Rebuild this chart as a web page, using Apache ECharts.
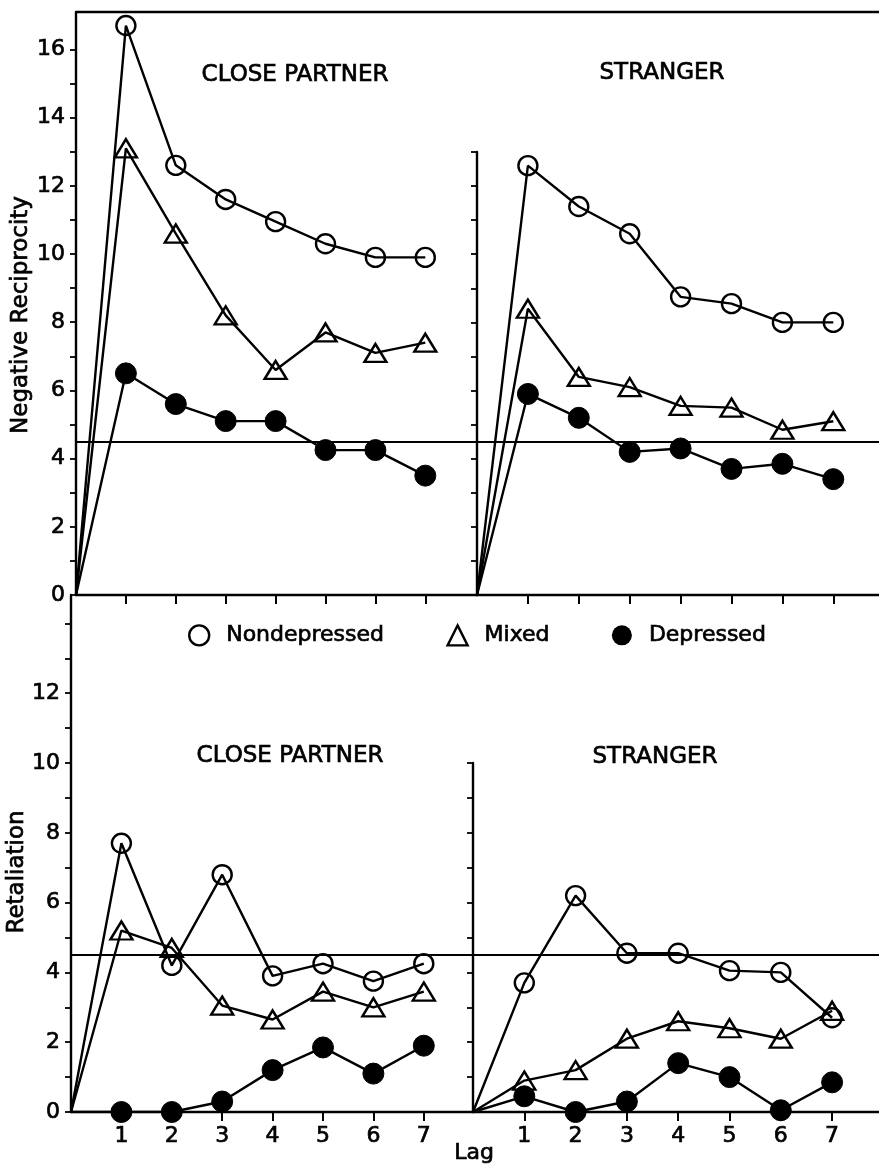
<!DOCTYPE html>
<html>
<head>
<meta charset="utf-8">
<script src="https://cdn.jsdelivr.net/npm/echarts@6/dist/echarts.min.js"></script>
<style>
html,body{margin:0;padding:0;background:#fff;}
#chart{width:879px;height:1170px;}
</style>
</head>
<body>
<div id="chart"></div>
<script>
// ---------- DATA ----------
const lags = [1, 2, 3, 4, 5, 6, 7];
const originPoint = [0, 0];
const seriesNames = ['Nondepressed', 'Mixed', 'Depressed'];

// Negative reciprocity
const negCloseNondep = [16.7, 12.6, 11.6, 10.95, 10.3, 9.9, 9.9];
const negCloseMixed  = [13.1, 10.6, 8.2, 6.6, 7.7, 7.1, 7.4];
const negCloseDep    = [6.5, 5.6, 5.1, 5.1, 4.25, 4.25, 3.5];
const negStrNondep   = [12.6, 11.4, 10.6, 8.75, 8.55, 8.0, 8.0];
const negStrMixed    = [8.4, 6.4, 6.1, 5.55, 5.5, 4.85, 5.1];
const negStrDep      = [5.9, 5.2, 4.2, 4.3, 3.7, 3.85, 3.4];

// Retaliation
const retCloseNondep = [7.7, 4.2, 6.8, 3.9, 4.25, 3.75, 4.25];
const retCloseMixed  = [5.2, 4.7, 3.05, 2.65, 3.45, 3.0, 3.45];
const retCloseDep    = [0.0, 0.0, 0.3, 1.2, 1.85, 1.1, 1.9];
const retStrNondep   = [3.7, 6.2, 4.55, 4.55, 4.05, 4.0, 2.7];
const retStrMixed    = [0.9, 1.2, 2.1, 2.6, 2.4, 2.1, 2.9];
const retStrDep      = [0.45, 0.0, 0.3, 1.4, 1.0, 0.05, 0.85];

const referenceLevel = 4.5;

// tick labels
const negTickValues = [0,1,2,3,4,5,6,7,8,9,10,11,12,13,14,15,16];
const negTickLabels = [0,2,4,6,8,10,12,14,16];
const negStrTickValues = [0,1,2,3,4,5,6,7,8,9,10,11,12,13];
const retTickValues = [0,1,2,3,4,5,6,7,8,9,10,11,12,13,14];
const retTickLabels = [0,2,4,6,8,10,12];
const retStrTickValues = [0,1,2,3,4,5,6,7,8,9,10];
const lagLabels = [1, 2, 3, 4, 5, 6, 7];

const panelTitles = ['CLOSE PARTNER', 'STRANGER', 'CLOSE PARTNER', 'STRANGER'];
const yNames = ['Negative Reciprocity', 'Retaliation'];
const xName = 'Lag';

// ---------- LAYOUT ----------
const FONT = '"DejaVu Sans", sans-serif';
const TB = 0.7; // text thickening stroke
const LW = 2.4;
const panels = [
  {left: 76,  top: 12,  width: 401, height: 583, yMax: 583/34.1, xMax: 401/49.9},
  {left: 477, top: 152, width: 402, height: 443, yMax: 13,       xMax: 402/50.9},
  {left: 71,  top: 595, width: 402, height: 517, yMax: 517/34.9, xMax: 402/50.4},
  {left: 473, top: 763, width: 406, height: 349, yMax: 10,       xMax: 406/51.3}
];

const chart = echarts.init(document.getElementById('chart'), null, {renderer: 'canvas'});

const grids = panels.map(p => ({left: p.left, top: p.top, width: p.width, height: p.height, containLabel: false}));

const xAxes = panels.map((p, i) => ({
  type: 'value', gridIndex: i, min: 0, max: p.xMax,
  axisLine: {show: true, onZero: false, lineStyle: {color: '#000', width: LW}},
  axisTick: {show: true, inside: false, length: 9, lineStyle: {color: '#000', width: 2}, customValues: lags},
  axisLabel: {show: i >= 2, customValues: lagLabels, margin: 13, color: '#000', fontSize: 22, fontFamily: FONT,
              textBorderColor: '#000', textBorderWidth: TB},
  splitLine: {show: false}
}));

const yTickSets = [negTickValues, negStrTickValues, retTickValues, retStrTickValues];
const yLabelSets = [negTickLabels, [], retTickLabels, []];
const yAxes = panels.map((p, i) => ({
  type: 'value', gridIndex: i, min: 0, max: p.yMax,
  axisLine: {show: true, lineStyle: {color: '#000', width: LW}},
  axisTick: {show: true, inside: false, length: 6, lineStyle: {color: '#000', width: 1.8}, customValues: yTickSets[i]},
  axisLabel: {show: yLabelSets[i].length > 0, customValues: yLabelSets[i], margin: 11, color: '#000', fontSize: 22, fontFamily: FONT,
              textBorderColor: '#000', textBorderWidth: TB},
  splitLine: {show: false}
}));

const panelData = [
  [negCloseNondep, negCloseMixed, negCloseDep],
  [negStrNondep, negStrMixed, negStrDep],
  [retCloseNondep, retCloseMixed, retCloseDep],
  [retStrNondep, retStrMixed, retStrDep]
];

const symbolDefs = {
  'Nondepressed': {symbol: 'circle', size: 19, style: {color: 'rgba(0,0,0,0)', borderColor: '#000', borderWidth: LW}},
  'Mixed':        {symbol: 'triangle', size: [22, 18], style: {color: 'rgba(0,0,0,0)', borderColor: '#000', borderWidth: LW}},
  'Depressed':    {symbol: 'circle', size: 21, style: {color: '#000', borderColor: '#000', borderWidth: 1}}
};

const series = [];
panelData.forEach((group, pi) => {
  group.forEach((vals, si) => {
    const name = seriesNames[si];
    const def = symbolDefs[name];
    const data = [{value: originPoint.slice(), symbol: 'none'}].concat(
      lags.map((l, k) => [l, vals[k]])
    );
    const s = {
      type: 'line', name: name, xAxisIndex: pi, yAxisIndex: pi,
      data: data, symbol: def.symbol, symbolSize: def.size,
      showSymbol: true, showAllSymbol: true,
      lineStyle: {color: '#000', width: LW},
      itemStyle: def.style,
      z: 3, animation: false, silent: true
    };
    if (si === 0) {
      s.markLine = {
        silent: true, symbol: 'none', animation: false,
        label: {show: false},
        lineStyle: {color: '#000', width: 1.8, type: 'solid'},
        data: [{yAxis: referenceLevel}]
      };
    }
    series.push(s);
  });
});

function txt(x, y, text, size, rot) {
  return {
    type: 'text', x: x, y: y, rotation: rot || 0,
    style: {text: text, font: size + 'px ' + FONT, fill: '#000', stroke: '#000', lineWidth: TB,
            align: 'center', verticalAlign: 'middle', textAlign: 'center', textVerticalAlign: 'middle'}
  };
}

const titlePos = [[295, 75], [662, 73], [290, 756], [655, 757]];
const graphics = panelTitles.map((t, i) => txt(titlePos[i][0], titlePos[i][1], t, 23));
graphics.push(txt(21, 315, yNames[0], 23, Math.PI / 2));
graphics.push(txt(17, 872, yNames[1], 23, Math.PI / 2));
graphics.push(txt(474, 1153, xName, 22));
graphics.push({
  type: 'line', shape: {x1: 76, y1: 12, x2: 879, y2: 12},
  style: {stroke: '#000', lineWidth: LW}
});

const option = {
  animation: false,
  backgroundColor: '#fff',
  grid: grids,
  xAxis: xAxes,
  yAxis: yAxes,
  legend: {
    left: 188, top: 624, padding: 0, itemGap: 62, itemWidth: 20, itemHeight: 20,
    selectedMode: false,
    textStyle: {fontSize: 22, fontFamily: FONT, color: '#000', padding: [0, 0, 0, 12],
                textBorderColor: '#000', textBorderWidth: TB},
    data: [
      {name: 'Nondepressed', icon: 'circle', itemStyle: {color: 'rgba(0,0,0,0)', borderColor: '#000', borderWidth: LW}},
      {name: 'Mixed', icon: 'triangle', itemStyle: {color: 'rgba(0,0,0,0)', borderColor: '#000', borderWidth: LW}},
      {name: 'Depressed', icon: 'circle', itemStyle: {color: '#000', borderColor: '#000', borderWidth: 0}}
    ]
  },
  graphic: graphics,
  series: series
};
chart.setOption(option);
</script>
</body>
</html>
